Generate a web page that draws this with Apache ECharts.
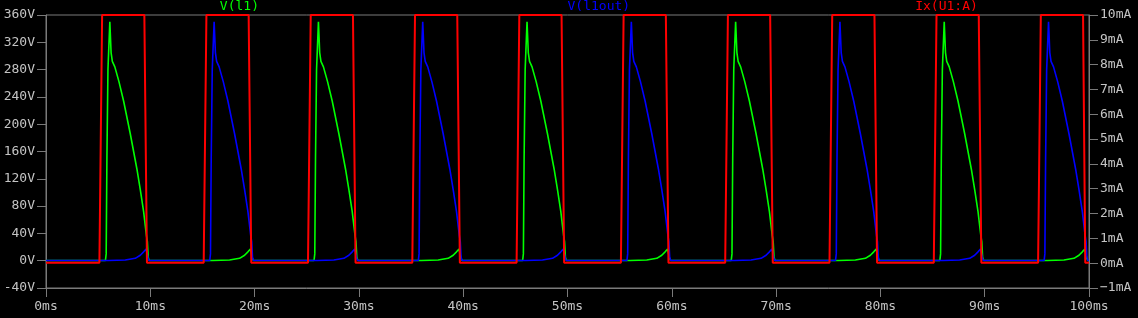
<!DOCTYPE html>
<html>
<head>
<meta charset="utf-8">
<script src="https://cdn.jsdelivr.net/npm/echarts@6/dist/echarts.min.js"></script>
<style>
html,body{margin:0;padding:0;background:#000;}
#chart{width:1138px;height:318px;}
</style>
</head>
<body>
<div id="chart"></div>
<script>
// Series names
const seriesNames = ['V(l1)', 'V(l1out)', 'Ix(U1:A)'];

// V(l1) in volts: [time ms, V]
const greenV = [
  [0,0.2],
  [5.70,0.5],[5.77,10],[5.84,150],[5.94,280],[6.12,350],[6.24,305],[6.36,292],[6.60,284],[7.00,262],[7.44,234],[8.08,186],[8.72,134],[9.04,104],[9.36,72],[9.62,38],[9.72,28],[9.80,5],[9.90,0.3],
  [16.0,0.3],[17.6,1],[18.56,3.5],[19.04,8],[19.36,13],[19.60,17],[19.70,19],[19.78,4],[19.88,0.3],
  [25.70,0.5],[25.77,10],[25.84,150],[25.94,280],[26.12,350],[26.24,305],[26.36,292],[26.60,284],[27.00,262],[27.44,234],[28.08,186],[28.72,134],[29.04,104],[29.36,72],[29.62,38],[29.72,28],[29.80,5],[29.90,0.3],
  [36.0,0.3],[37.6,1],[38.56,3.5],[39.04,8],[39.36,13],[39.60,17],[39.70,19],[39.78,4],[39.88,0.3],
  [45.70,0.5],[45.77,10],[45.84,150],[45.94,280],[46.12,350],[46.24,305],[46.36,292],[46.60,284],[47.00,262],[47.44,234],[48.08,186],[48.72,134],[49.04,104],[49.36,72],[49.62,38],[49.72,28],[49.80,5],[49.90,0.3],
  [56.0,0.3],[57.6,1],[58.56,3.5],[59.04,8],[59.36,13],[59.60,17],[59.70,19],[59.78,4],[59.88,0.3],
  [65.70,0.5],[65.77,10],[65.84,150],[65.94,280],[66.12,350],[66.24,305],[66.36,292],[66.60,284],[67.00,262],[67.44,234],[68.08,186],[68.72,134],[69.04,104],[69.36,72],[69.62,38],[69.72,28],[69.80,5],[69.90,0.3],
  [76.0,0.3],[77.6,1],[78.56,3.5],[79.04,8],[79.36,13],[79.60,17],[79.70,19],[79.78,4],[79.88,0.3],
  [85.70,0.5],[85.77,10],[85.84,150],[85.94,280],[86.12,350],[86.24,305],[86.36,292],[86.60,284],[87.00,262],[87.44,234],[88.08,186],[88.72,134],[89.04,104],[89.36,72],[89.62,38],[89.72,28],[89.80,5],[89.90,0.3],
  [96.0,0.3],[97.6,1],[98.56,3.5],[99.04,8],[99.36,13],[99.60,17],[99.70,19],[99.78,4],[99.88,0.3],
  [100,0.3]
];

// V(l1out) in volts: [time ms, V]
const blueV = [
  [0,0.2],
  [6.0,0.3],[7.6,1],[8.56,3.5],[9.04,8],[9.36,13],[9.60,17],[9.70,19],[9.78,4],[9.88,0.3],
  [15.70,0.5],[15.77,10],[15.84,150],[15.94,280],[16.12,350],[16.24,305],[16.36,292],[16.60,284],[17.00,262],[17.44,234],[18.08,186],[18.72,134],[19.04,104],[19.36,72],[19.62,38],[19.72,28],[19.80,5],[19.90,0.3],
  [26.0,0.3],[27.6,1],[28.56,3.5],[29.04,8],[29.36,13],[29.60,17],[29.70,19],[29.78,4],[29.88,0.3],
  [35.70,0.5],[35.77,10],[35.84,150],[35.94,280],[36.12,350],[36.24,305],[36.36,292],[36.60,284],[37.00,262],[37.44,234],[38.08,186],[38.72,134],[39.04,104],[39.36,72],[39.62,38],[39.72,28],[39.80,5],[39.90,0.3],
  [46.0,0.3],[47.6,1],[48.56,3.5],[49.04,8],[49.36,13],[49.60,17],[49.70,19],[49.78,4],[49.88,0.3],
  [55.70,0.5],[55.77,10],[55.84,150],[55.94,280],[56.12,350],[56.24,305],[56.36,292],[56.60,284],[57.00,262],[57.44,234],[58.08,186],[58.72,134],[59.04,104],[59.36,72],[59.62,38],[59.72,28],[59.80,5],[59.90,0.3],
  [66.0,0.3],[67.6,1],[68.56,3.5],[69.04,8],[69.36,13],[69.60,17],[69.70,19],[69.78,4],[69.88,0.3],
  [75.70,0.5],[75.77,10],[75.84,150],[75.94,280],[76.12,350],[76.24,305],[76.36,292],[76.60,284],[77.00,262],[77.44,234],[78.08,186],[78.72,134],[79.04,104],[79.36,72],[79.62,38],[79.72,28],[79.80,5],[79.90,0.3],
  [86.0,0.3],[87.6,1],[88.56,3.5],[89.04,8],[89.36,13],[89.60,17],[89.70,19],[89.78,4],[89.88,0.3],
  [95.70,0.5],[95.77,10],[95.84,150],[95.94,280],[96.12,350],[96.24,305],[96.36,292],[96.60,284],[97.00,262],[97.44,234],[98.08,186],[98.72,134],[99.04,104],[99.36,72],[99.62,38],[99.72,28],[99.80,5],[99.90,0.3],
  [100,0.3]
];

// Ix(U1:A) in mA: [time ms, mA]
const redI = [
  [0,0.02],
  [5.12,0.02],[5.38,10],[9.43,10],[9.68,0.02],
  [15.12,0.02],[15.38,10],[19.43,10],[19.68,0.02],
  [25.12,0.02],[25.38,10],[29.43,10],[29.68,0.02],
  [35.12,0.02],[35.38,10],[39.43,10],[39.68,0.02],
  [45.12,0.02],[45.38,10],[49.43,10],[49.68,0.02],
  [55.12,0.02],[55.38,10],[59.43,10],[59.68,0.02],
  [65.12,0.02],[65.38,10],[69.43,10],[69.68,0.02],
  [75.12,0.02],[75.38,10],[79.43,10],[79.68,0.02],
  [85.12,0.02],[85.38,10],[89.43,10],[89.68,0.02],
  [95.12,0.02],[95.38,10],[99.43,10],[99.64,0.02],
  [100,0.02]
];

// Axis ranges
const timeRange = [0, 100, 10];
const voltRange = [-40, 360, 40];
const currRange = [-1, 10, 1];

const axisGray = '#7a7a7a';
const labelGray = '#c4c4c4';
const mono = 'DejaVu Sans Mono';

const chart = echarts.init(document.getElementById('chart'), null, {renderer: 'canvas'});
const gridL = 46, gridR = 49, gridT = 15, gridB = 30;
const plotW = 1138 - gridL - gridR;

chart.setOption({
  backgroundColor: '#000',
  animation: false,
  grid: {left: gridL, right: gridR, top: gridT, bottom: gridB, show: true, borderColor: axisGray, borderWidth: 1},
  graphic: [
    {type: 'text', left: gridL + plotW / 6, top: 0, style: {text: seriesNames[0], fill: '#00ff00', font: '13px "DejaVu Sans Mono"', textAlign: 'center'}},
    {type: 'text', left: gridL + plotW / 2, top: 0, style: {text: seriesNames[1], fill: '#0000ff', font: '13px "DejaVu Sans Mono"', textAlign: 'center'}},
    {type: 'text', left: gridL + plotW * 5 / 6, top: 0, style: {text: seriesNames[2], fill: '#ff0000', font: '13px "DejaVu Sans Mono"', textAlign: 'center'}}
  ],
  xAxis: {
    type: 'value', min: timeRange[0], max: timeRange[1], interval: timeRange[2],
    axisLine: {show: true, onZero: false, lineStyle: {color: axisGray}},
    axisTick: {show: true, length: 9, lineStyle: {color: axisGray}},
    splitLine: {show: false},
    axisLabel: {color: labelGray, fontFamily: mono, fontSize: 13, margin: 12, formatter: v => v + 'ms'}
  },
  yAxis: [
    {
      type: 'value', min: voltRange[0], max: voltRange[1], interval: voltRange[2],
      axisLine: {show: true, onZero: false, lineStyle: {color: axisGray}},
      axisTick: {show: true, length: 9, lineStyle: {color: axisGray}},
      splitLine: {show: false},
      axisLabel: {color: labelGray, fontFamily: mono, fontSize: 13, margin: 11, formatter: v => v + 'V'}
    },
    {
      type: 'value', position: 'right', min: currRange[0], max: currRange[1], interval: currRange[2],
      axisLine: {show: true, onZero: false, lineStyle: {color: axisGray}},
      axisTick: {show: true, length: 9, lineStyle: {color: axisGray}},
      splitLine: {show: false},
      axisLabel: {color: labelGray, fontFamily: mono, fontSize: 13, margin: 11, formatter: v => (v < 0 ? '\u2212' + Math.abs(v) : v) + 'mA'}
    }
  ],
  series: [
    {name: seriesNames[0], type: 'line', data: greenV, yAxisIndex: 0, showSymbol: false, symbol: 'none', z: 2, lineStyle: {color: '#00ff00', width: 1.6}, clip: true},
    {name: seriesNames[1], type: 'line', data: blueV, yAxisIndex: 0, showSymbol: false, symbol: 'none', z: 3, lineStyle: {color: '#0000ff', width: 1.6}, clip: true},
    {name: seriesNames[2], type: 'line', data: redI, yAxisIndex: 1, showSymbol: false, symbol: 'none', z: 4, lineStyle: {color: '#ff0000', width: 2}, clip: false}
  ]
});
</script>
</body>
</html>
